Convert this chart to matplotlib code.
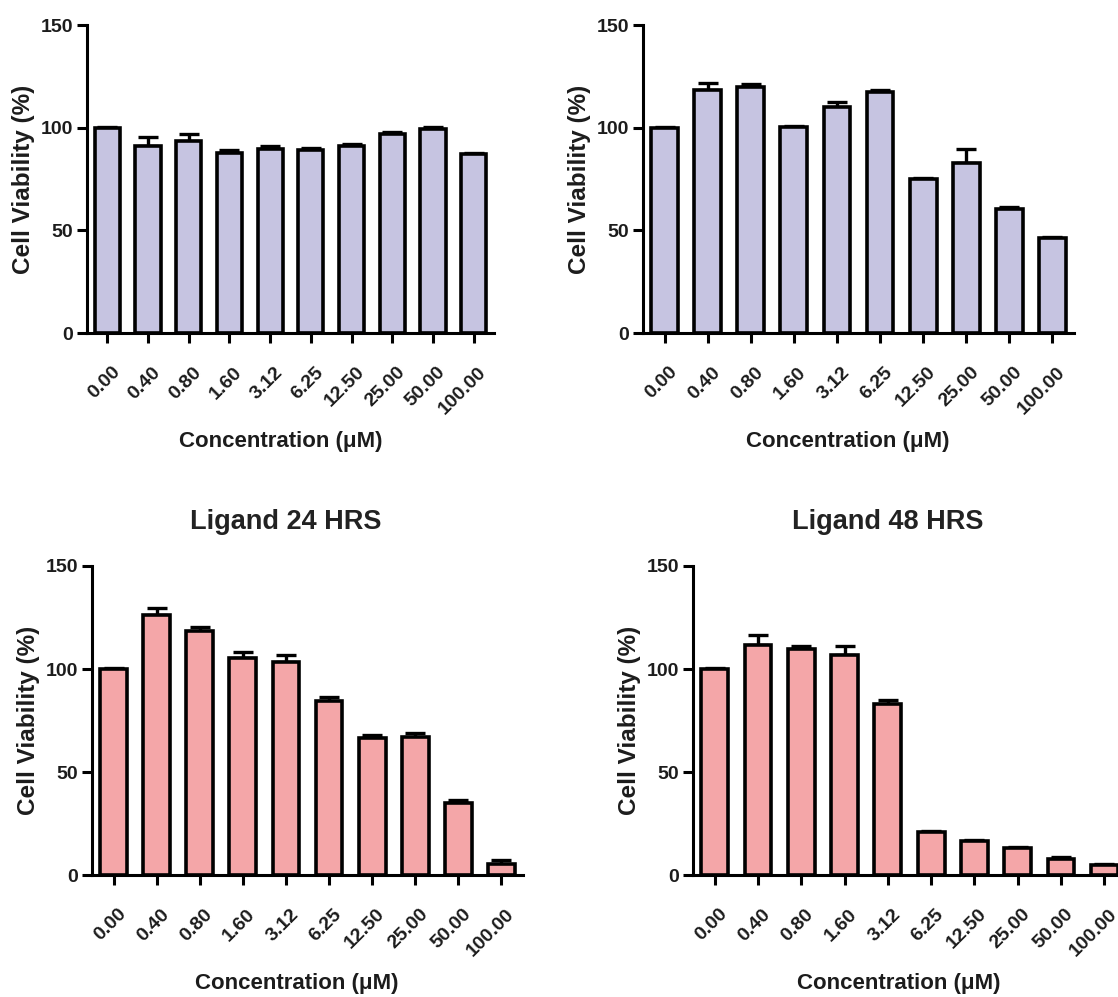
import matplotlib
matplotlib.use("Agg")
import matplotlib.pyplot as plt
import matplotlib.transforms as mtransforms
import numpy as np

plt.rcParams['font.family'] = ['Liberation Sans', 'DejaVu Sans']
plt.rcParams['font.weight'] = 'bold'

concentrations = ['0.00', '0.40', '0.80', '1.60', '3.12', '6.25',
                  '12.50', '25.00', '50.00', '100.00']

# top row (no title visible), lavender bars
top_left_vals = [100, 91.0, 93.7, 87.9, 89.5, 89.2, 91.1, 96.9, 99.5, 87.1]
top_left_err = [0.3, 4.6, 3.0, 1.0, 1.5, 1.0, 1.0, 0.8, 1.0, 0.5]

top_right_vals = [100, 118.2, 119.8, 100.3, 110.0, 117.4, 74.8, 83.0, 60.5, 46.3]
top_right_err = [0.3, 3.5, 1.6, 0.5, 2.4, 1.0, 0.5, 6.8, 0.8, 0.5]

# bottom row, pink bars
lig24_vals = [100, 126.2, 118.6, 105.5, 103.3, 84.4, 66.3, 67.1, 35.0, 5.2]
lig24_err = [0.3, 3.4, 1.8, 2.7, 3.3, 1.9, 1.6, 2.0, 1.5, 2.0]

lig48_vals = [100, 111.7, 109.8, 106.6, 82.9, 21.0, 16.4, 12.9, 7.7, 4.8]
lig48_err = [0.3, 4.9, 1.3, 4.8, 2.1, 0.5, 0.5, 0.5, 0.8, 0.5]

lavender = '#c6c4e1'
pink = '#f4a6a8'
ink = '#1c1c1c'

W, H = 1118, 997
fig = plt.figure(figsize=(W / 100, H / 100), dpi=100)


def px_axes(left, right, top, bottom):
    # axes box given in pixel coordinates of the image
    return fig.add_axes([left / W, 1 - bottom / H, (right - left) / W, (bottom - top) / H])


def draw_panel(ax, vals, err, color, title=None):
    x = np.arange(len(concentrations))
    ax.bar(x, vals, width=0.62, color=color, edgecolor='black', linewidth=2.6, zorder=2)
    ax.errorbar(x, vals, yerr=[np.zeros(len(err)), err], fmt='none', ecolor='black',
                elinewidth=2.4, capsize=7, capthick=2.4, zorder=1)
    ax.set_xlim(-0.5, 9.5)
    ax.set_ylim(0, 150)
    ax.set_yticks([0, 50, 100, 150])
    ax.set_xticks(x)
    ax.set_xticklabels(concentrations, rotation=45, ha='right', rotation_mode='anchor')
    for s in ['top', 'right']:
        ax.spines[s].set_visible(False)
    for s in ['left', 'bottom']:
        ax.spines[s].set_linewidth(2.2)
    ax.tick_params(axis='both', direction='out', length=7, width=2.2,
                   labelsize=14, pad=3, labelcolor=ink)
    ax.tick_params(axis='x', pad=15)
    shift = mtransforms.ScaledTranslation(4 / 100, 0, fig.dpi_scale_trans)
    for lab in ax.get_xticklabels():
        lab.set_transform(lab.get_transform() + shift)
    ax.set_xlabel('Concentration (\u03bcM)', fontsize=16, fontweight='bold', color=ink)
    ax.set_ylabel('Cell Viability (%)', fontsize=17.5, fontweight='bold', color=ink)
    w_px = ax.get_position().width * W
    h_px = ax.get_position().height * H
    ax.yaxis.set_label_coords(-52 / w_px, 0.5)
    ax.xaxis.set_label_coords(0.475, -98 / h_px)
    if title:
        ax.text(0.45, 1 + 44 / h_px, title, transform=ax.transAxes, ha='center',
                va='center', fontsize=19.5, fontweight='bold', color='#222222')


ax1 = px_axes(87, 494, 25, 333)
draw_panel(ax1, top_left_vals, top_left_err, lavender)

ax2 = px_axes(643, 1074, 25, 333)
draw_panel(ax2, top_right_vals, top_right_err, lavender)

ax3 = px_axes(92, 523, 566, 875)
draw_panel(ax3, lig24_vals, lig24_err, pink, 'Ligand 24 HRS')

ax4 = px_axes(693, 1126, 566, 875)
draw_panel(ax4, lig48_vals, lig48_err, pink, 'Ligand 48 HRS')

fig.savefig('out.png', dpi=100)
